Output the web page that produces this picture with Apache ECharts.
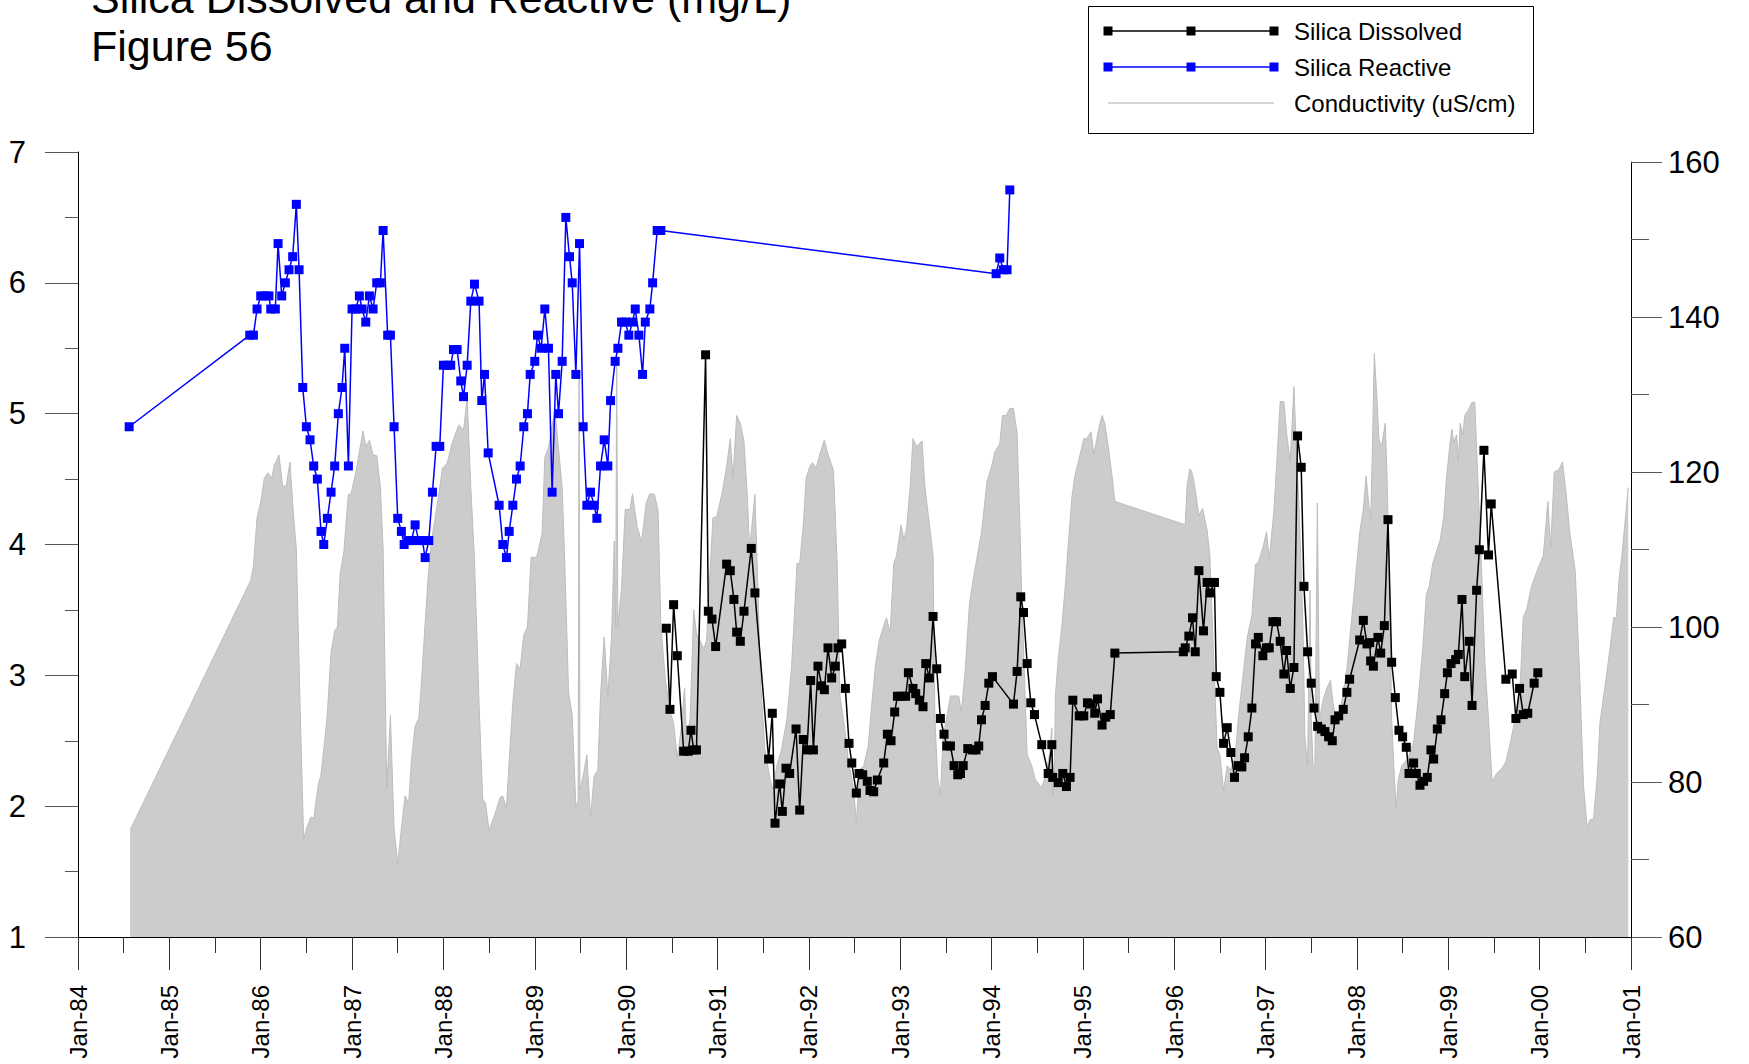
<!DOCTYPE html>
<html>
<head>
<meta charset="utf-8">
<title>Silica Dissolved and Reactive - Figure 56</title>
<script src="https://cdn.jsdelivr.net/npm/echarts@6/dist/echarts.min.js"></script>
<style>
  html, body { margin: 0; padding: 0; background: #fff; }
  #chart { width: 1749px; height: 1064px; }
</style>
</head>
<body>
<div id="chart"></div>
<script>
// x values are decimal years (1984.5 = early July 1984)
const xTickLabels = ['Jan-84', 'Jan-85', 'Jan-86', 'Jan-87', 'Jan-88', 'Jan-89', 'Jan-90', 'Jan-91', 'Jan-92',
  'Jan-93', 'Jan-94', 'Jan-95', 'Jan-96', 'Jan-97', 'Jan-98', 'Jan-99', 'Jan-00', 'Jan-01'];

const seriesNames = ['Silica Dissolved', 'Silica Reactive', 'Conductivity (uS/cm)'];

const reactiveYears = [1984.56, 1985.88, 1985.92, 1985.96, 1986.00, 1986.05, 1986.09, 1986.11, 1986.16, 1986.19,
  1986.23, 1986.27, 1986.31, 1986.35, 1986.39, 1986.42, 1986.46, 1986.50, 1986.54, 1986.58,
  1986.62, 1986.66, 1986.69, 1986.73, 1986.77, 1986.81, 1986.85, 1986.89, 1986.92, 1986.96,
  1987.00, 1987.04, 1987.08, 1987.11, 1987.15, 1987.19, 1987.23, 1987.27, 1987.31, 1987.34,
  1987.39, 1987.42, 1987.46, 1987.50, 1987.54, 1987.57, 1987.61, 1987.65, 1987.69, 1987.73,
  1987.77, 1987.80, 1987.84, 1987.88, 1987.92, 1987.96, 1988.00, 1988.04, 1988.08, 1988.11,
  1988.15, 1988.19, 1988.22, 1988.26, 1988.30, 1988.34, 1988.39, 1988.42, 1988.45, 1988.49,
  1988.61, 1988.65, 1988.69, 1988.72, 1988.76, 1988.80, 1988.84, 1988.88, 1988.92, 1988.95,
  1989.00, 1989.03, 1989.07, 1989.11, 1989.15, 1989.19, 1989.23, 1989.26, 1989.30, 1989.34,
  1989.38, 1989.41, 1989.45, 1989.49, 1989.53, 1989.57, 1989.61, 1989.65, 1989.68, 1989.72,
  1989.76, 1989.80, 1989.83, 1989.88, 1989.91, 1989.95, 1989.99, 1990.03, 1990.07, 1990.10,
  1990.14, 1990.18, 1990.21, 1990.26, 1990.29, 1990.34, 1990.38,
  1994.05, 1994.09, 1994.13, 1994.17, 1994.20];
const reactiveValues = [4.90, 5.60, 5.60, 5.80, 5.90, 5.90, 5.90, 5.80, 5.80, 6.30,
  5.90, 6.00, 6.10, 6.20, 6.60, 6.10, 5.20, 4.90, 4.80, 4.60,
  4.50, 4.10, 4.00, 4.20, 4.40, 4.60, 5.00, 5.20, 5.50, 4.60,
  5.80, 5.80, 5.90, 5.80, 5.70, 5.90, 5.80, 6.00, 6.00, 6.40,
  5.60, 5.60, 4.90, 4.20, 4.10, 4.00, 4.03, 4.03, 4.15, 4.03,
  4.03, 3.90, 4.03, 4.40, 4.75, 4.75, 5.37, 5.37, 5.37, 5.49,
  5.49, 5.25, 5.13, 5.37, 5.86, 5.99, 5.86, 5.10, 5.30, 4.70,
  4.30, 4.00, 3.90, 4.10, 4.30, 4.50, 4.60, 4.90, 5.00, 5.30,
  5.40, 5.60, 5.50, 5.80, 5.50, 4.40, 5.30, 5.00, 5.40, 6.50,
  6.20, 6.00, 5.30, 6.30, 4.90, 4.30, 4.40, 4.30, 4.20, 4.60,
  4.80, 4.60, 5.10, 5.40, 5.50, 5.70, 5.70, 5.60, 5.70, 5.80,
  5.60, 5.30, 5.70, 5.80, 6.00, 6.40, 6.40,
  6.07, 6.19, 6.10, 6.10, 6.71];

const dissolvedYears = [1990.44, 1990.48, 1990.52, 1990.56, 1990.63, 1990.68, 1990.71, 1990.74, 1990.77, 1990.87,
  1990.90, 1990.94, 1990.98, 1991.10, 1991.14, 1991.18, 1991.21, 1991.25, 1991.29, 1991.37,
  1991.41, 1991.56, 1991.60, 1991.63, 1991.68, 1991.71, 1991.75, 1991.79, 1991.86, 1991.90,
  1991.94, 1991.98, 1992.02, 1992.05, 1992.10, 1992.14, 1992.17, 1992.21, 1992.25, 1992.29,
  1992.32, 1992.36, 1992.40, 1992.44, 1992.47, 1992.52, 1992.55, 1992.59, 1992.64, 1992.67,
  1992.71, 1992.75, 1992.82, 1992.86, 1992.90, 1992.94, 1992.97, 1993.01, 1993.06, 1993.09,
  1993.14, 1993.17, 1993.21, 1993.25, 1993.28, 1993.32, 1993.36, 1993.40, 1993.44, 1993.48,
  1993.51, 1993.55, 1993.59, 1993.63, 1993.66, 1993.69, 1993.74, 1993.79, 1993.83, 1993.86,
  1993.89, 1993.93, 1993.97, 1994.01, 1994.24, 1994.28, 1994.32, 1994.35, 1994.39, 1994.43,
  1994.47, 1994.55, 1994.62, 1994.66, 1994.67, 1994.73, 1994.78, 1994.82, 1994.86, 1994.89,
  1994.96, 1995.01, 1995.05, 1995.09, 1995.13, 1995.16, 1995.21, 1995.25, 1995.30, 1995.35,
  1996.10, 1996.12, 1996.16, 1996.20, 1996.23, 1996.27, 1996.32, 1996.36, 1996.39, 1996.44,
  1996.46, 1996.50, 1996.54, 1996.58, 1996.62, 1996.66, 1996.70, 1996.74, 1996.77, 1996.81,
  1996.85, 1996.89, 1996.92, 1996.97, 1997.01, 1997.04, 1997.08, 1997.12, 1997.16, 1997.20,
  1997.23, 1997.27, 1997.31, 1997.35, 1997.39, 1997.42, 1997.46, 1997.50, 1997.53, 1997.57,
  1997.61, 1997.65, 1997.69, 1997.73, 1997.76, 1997.80, 1997.85, 1997.89, 1997.92, 1998.03,
  1998.07, 1998.11, 1998.14, 1998.15, 1998.18, 1998.23, 1998.26, 1998.30, 1998.34, 1998.38,
  1998.42, 1998.46, 1998.50, 1998.54, 1998.57, 1998.62, 1998.65, 1998.69, 1998.73, 1998.77,
  1998.81, 1998.84, 1998.88, 1998.92, 1998.96, 1998.99, 1999.03, 1999.08, 1999.11, 1999.15,
  1999.18, 1999.23, 1999.26, 1999.31, 1999.34, 1999.39, 1999.44, 1999.47, 1999.63, 1999.70,
  1999.74, 1999.78, 1999.82, 1999.87, 1999.94, 1999.98];
const dissolvedValues = [3.36, 2.74, 3.54, 3.15, 2.42, 2.42, 2.58, 2.43, 2.43, 5.45,
  3.49, 3.43, 3.22, 3.85, 3.80, 3.58, 3.33, 3.26, 3.49, 3.97,
  3.63, 2.36, 2.71, 1.87, 2.17, 1.96, 2.29, 2.25, 2.59, 1.97,
  2.51, 2.43, 2.96, 2.43, 3.07, 2.92, 2.89, 3.21, 2.98, 3.07,
  3.21, 3.24, 2.90, 2.48, 2.33, 2.10, 2.25, 2.24, 2.19, 2.12,
  2.11, 2.20, 2.33, 2.55, 2.50, 2.72, 2.84, 2.84, 2.84, 3.02,
  2.90, 2.86, 2.81, 2.76, 3.09, 2.98, 3.45, 3.05, 2.67, 2.55,
  2.46, 2.46, 2.31, 2.24, 2.25, 2.31, 2.44, 2.43, 2.43, 2.46,
  2.66, 2.77, 2.94, 2.99, 2.78, 3.03, 3.60, 3.48, 3.09, 2.79,
  2.70, 2.47, 2.25, 2.47, 2.22, 2.18, 2.25, 2.15, 2.22, 2.81,
  2.69, 2.69, 2.79, 2.78, 2.71, 2.82, 2.62, 2.68, 2.70, 3.17,
  3.18, 3.21, 3.30, 3.44, 3.18, 3.80, 3.34, 3.71, 3.63, 3.71,
  2.99, 2.87, 2.48, 2.60, 2.41, 2.22, 2.31, 2.30, 2.37, 2.53,
  2.75, 3.24, 3.29, 3.15, 3.21, 3.21, 3.41, 3.41, 3.26, 3.01,
  3.19, 2.90, 3.06, 4.83, 4.59, 3.68, 3.18, 2.94, 2.75, 2.61,
  2.59, 2.57, 2.53, 2.50, 2.66, 2.69, 2.74, 2.87, 2.97, 3.27,
  3.42, 3.24, 3.25, 3.11, 3.07, 3.29, 3.17, 3.38, 4.19, 3.10,
  2.83, 2.58, 2.53, 2.45, 2.25, 2.33, 2.25, 2.16, 2.19, 2.22,
  2.43, 2.36, 2.59, 2.66, 2.86, 3.02, 3.09, 3.12, 3.16, 3.58,
  2.99, 3.26, 2.77, 3.65, 3.96, 4.72, 3.92, 4.31, 2.97, 3.01,
  2.67, 2.90, 2.70, 2.71, 2.94, 3.02];

const conductivityYears = [1984.57, 1985.89, 1985.92, 1985.96, 1986.00, 1986.04, 1986.08, 1986.12, 1986.15, 1986.20,
  1986.24, 1986.28, 1986.32, 1986.36, 1986.39, 1986.43, 1986.47, 1986.51, 1986.55, 1986.58,
  1986.63, 1986.66, 1986.70, 1986.73, 1986.77, 1986.81, 1986.84, 1986.87, 1986.91, 1986.94,
  1986.96, 1986.99, 1987.04, 1987.08, 1987.12, 1987.15, 1987.19, 1987.23, 1987.27, 1987.31,
  1987.34, 1987.38, 1987.42, 1987.46, 1987.50, 1987.54, 1987.58, 1987.62, 1987.65, 1987.69,
  1987.73, 1987.75, 1987.79, 1987.83, 1987.87, 1987.94, 1987.99, 1988.04, 1988.09, 1988.13,
  1988.17, 1988.22, 1988.26, 1988.30, 1988.34, 1988.39, 1988.43, 1988.46, 1988.50, 1988.56,
  1988.62, 1988.65, 1988.69, 1988.73, 1988.76, 1988.80, 1988.84, 1988.88, 1988.92, 1988.96,
  1989.02, 1989.08, 1989.11, 1989.15, 1989.18, 1989.22, 1989.30, 1989.33, 1989.37, 1989.41,
  1989.45, 1989.475, 1989.485, 1989.495, 1989.53, 1989.57, 1989.61, 1989.65, 1989.69, 1989.72,
  1989.76, 1989.80, 1989.84, 1989.87, 1989.885, 1989.897, 1989.91, 1989.95, 1989.99, 1990.04,
  1990.07, 1990.12, 1990.17, 1990.22, 1990.26, 1990.31, 1990.35, 1990.38, 1990.43, 1990.48,
  1990.52, 1990.56, 1990.60, 1990.64, 1990.66, 1990.70, 1990.74, 1990.77, 1990.85, 1990.88,
  1990.95, 1990.99, 1991.05, 1991.10, 1991.14, 1991.17, 1991.21, 1991.25, 1991.29, 1991.33,
  1991.35, 1991.37, 1991.41, 1991.44, 1991.47, 1991.52, 1991.58, 1991.61, 1991.65, 1991.70,
  1991.76, 1991.81, 1991.85, 1991.87, 1991.90, 1991.94, 1991.97, 1992.01, 1992.04, 1992.08,
  1992.12, 1992.17, 1992.21, 1992.27, 1992.31, 1992.34, 1992.38, 1992.43, 1992.49, 1992.52,
  1992.56, 1992.60, 1992.65, 1992.69, 1992.73, 1992.77, 1992.82, 1992.85, 1992.89, 1992.93,
  1992.96, 1993.01, 1993.04, 1993.07, 1993.11, 1993.14, 1993.18, 1993.24, 1993.27, 1993.31,
  1993.36, 1993.38, 1993.41, 1993.44, 1993.47, 1993.55, 1993.64, 1993.67, 1993.71, 1993.76,
  1993.80, 1993.89, 1993.95, 1994.00, 1994.04, 1994.09, 1994.12, 1994.16, 1994.20, 1994.24,
  1994.28, 1994.31, 1994.33, 1994.37, 1994.39, 1994.44, 1994.48, 1994.55, 1994.60, 1994.64,
  1994.66, 1994.67, 1994.69, 1994.70, 1994.73, 1994.77, 1994.81, 1994.84, 1994.88, 1994.91,
  1994.95, 1995.01, 1995.04, 1995.09, 1995.12, 1995.17, 1995.21, 1995.24, 1995.28, 1995.32,
  1995.35, 1996.12, 1996.14, 1996.17, 1996.19, 1996.22, 1996.27, 1996.31, 1996.36, 1996.39,
  1996.42, 1996.45, 1996.47, 1996.50, 1996.54, 1996.58, 1996.62, 1996.67, 1996.70, 1996.76,
  1996.80, 1996.85, 1996.89, 1996.92, 1996.97, 1997.01, 1997.04, 1997.09, 1997.12, 1997.16,
  1997.20, 1997.23, 1997.27, 1997.31, 1997.33, 1997.37, 1997.41, 1997.43, 1997.46, 1997.487,
  1997.50, 1997.52, 1997.54, 1997.567, 1997.59, 1997.63, 1997.67, 1997.71, 1997.74, 1997.78,
  1997.83, 1997.89, 1997.92, 1997.98, 1998.03, 1998.07, 1998.10, 1998.13, 1998.15, 1998.17,
  1998.19, 1998.22, 1998.24, 1998.27, 1998.31, 1998.33, 1998.36, 1998.38, 1998.41, 1998.43,
  1998.45, 1998.49, 1998.56, 1998.62, 1998.67, 1998.72, 1998.76, 1998.79, 1998.83, 1998.87,
  1998.91, 1998.95, 1998.98, 1999.02, 1999.04, 1999.06, 1999.09, 1999.11, 1999.13, 1999.16,
  1999.18, 1999.22, 1999.26, 1999.29, 1999.33, 1999.37, 1999.40, 1999.44, 1999.48, 1999.53,
  1999.59, 1999.63, 1999.68, 1999.73, 1999.79, 1999.82, 1999.86, 1999.91, 1999.97, 2000.04,
  2000.09, 2000.12, 2000.16, 2000.21, 2000.25, 2000.29, 2000.33, 2000.39, 2000.44, 2000.48,
  2000.52, 2000.55, 2000.59, 2000.63, 2000.66, 2000.70, 2000.73, 2000.77, 2000.81, 2000.84,
  2000.87, 2000.90, 2000.94, 2000.97];
const conductivityValues = [73.8, 106.0, 107.8, 114.1, 116.1, 119.2, 119.9, 119.2, 120.9, 122.2,
  118.2, 118.2, 121.3, 114.3, 110.1, 90.2, 72.7, 74.3, 75.5, 75.3,
  79.6, 81.0, 85.2, 88.9, 96.7, 99.5, 100.0, 106.9, 109.7, 114.3,
  117.1, 117.2, 119.9, 122.6, 125.3, 123.3, 124.1, 122.2, 122.1, 118.1,
  110.1, 79.1, 88.6, 74.0, 69.4, 74.0, 78.2, 77.3, 82.8, 87.2,
  88.2, 91.2, 98.6, 106.0, 111.1, 116.4, 120.5, 121.1, 123.5, 124.9,
  126.1, 125.4, 129.5, 118.0, 108.7, 90.2, 77.8, 77.3, 73.8, 75.7,
  78.0, 78.2, 76.6, 84.7, 90.2, 95.3, 94.6, 99.0, 100.0, 109.0,
  109.0, 112.0, 121.9, 123.1, 125.4, 128.0, 118.0, 107.8, 91.6, 88.6,
  76.8, 77.5, 133.0, 79.0, 80.8, 83.5, 75.4, 80.8, 81.5, 91.2,
  98.7, 91.0, 98.6, 111.1, 100.0, 134.5, 100.0, 105.0, 115.2, 115.1,
  117.2, 113.0, 111.0, 116.0, 117.2, 117.1, 115.0, 100.2, 93.1, 89.1,
  87.6, 83.1, 86.6, 92.1, 85.6, 88.1, 102.2, 99.2, 97.2, 98.2,
  114.1, 114.2, 117.2, 120.7, 124.3, 119.2, 127.3, 126.3, 124.0, 116.2,
  110.2, 112.2, 117.1, 106.2, 93.1, 84.1, 80.1, 79.1, 82.1, 84.1,
  88.1, 94.6, 103.2, 108.2, 108.2, 113.2, 119.2, 120.7, 121.2, 120.5,
  122.3, 124.1, 122.3, 120.2, 108.2, 91.1, 88.1, 83.1, 79.1, 74.8,
  81.6, 82.1, 84.6, 90.1, 95.1, 98.2, 100.2, 101.2, 99.2, 108.2,
  109.2, 113.2, 111.2, 112.7, 118.2, 124.3, 123.3, 124.0, 118.2, 114.2,
  109.2, 88.1, 80.6, 78.3, 85.6, 91.1, 91.1, 89.1, 94.1, 103.2,
  106.2, 112.2, 118.7, 120.7, 122.7, 123.6, 127.3, 127.3, 128.2, 128.2,
  125.0, 113.4, 104.2, 90.4, 83.5, 82.1, 80.3, 79.3, 81.2, 84.0,
  87.0, 78.2, 83.5, 91.3, 95.9, 100.1, 105.6, 110.7, 116.7, 119.4,
  121.3, 124.3, 124.3, 125.2, 122.2, 125.4, 127.3, 126.3, 123.1, 119.4,
  116.2, 113.2, 118.1, 120.4, 120.1, 118.5, 114.4, 115.3, 112.5, 109.3,
  99.6, 90.4, 84.4, 83.5, 78.9, 82.1, 81.6, 83.5, 88.1, 94.5,
  98.7, 101.5, 108.1, 108.4, 110.2, 112.3, 108.8, 114.8, 120.8, 129.1,
  129.1, 125.0, 121.3, 131.0, 125.0, 114.4, 99.6, 85.8, 82.1, 104.7,
  88.0, 82.1, 82.1, 116.0, 88.1, 90.6, 92.1, 93.1, 90.1, 87.6,
  90.1, 94.6, 98.2, 105.7, 112.2, 115.2, 119.5, 115.7, 113.7, 123.3,
  135.3, 129.3, 124.3, 123.3, 126.3, 119.2, 103.2, 88.1, 80.6, 76.6,
  80.1, 82.1, 83.1, 85.1, 90.6, 97.2, 104.2, 105.2, 108.2, 109.7,
  111.2, 114.2, 119.2, 123.8, 125.5, 123.8, 124.8, 121.3, 126.3, 124.8,
  127.3, 128.0, 129.0, 129.0, 117.2, 105.7, 95.6, 88.1, 80.1, 81.1,
  81.8, 82.6, 85.1, 88.1, 93.1, 101.2, 102.4, 105.2, 107.2, 109.2,
  116.2, 110.2, 120.0, 120.3, 121.3, 117.2, 112.2, 107.2, 93.1, 79.6,
  74.1, 75.1, 75.3, 80.6, 87.6, 91.1, 93.6, 97.2, 101.2, 101.2,
  106.2, 109.2, 114.2, 118.0];

const pairs = (xs, ys) => xs.map((x, i) => [x, ys[i]]);

const FONT = 'Liberation Sans, Arial, Helvetica, sans-serif';

let myChart = echarts.init(document.getElementById('chart'), null, { renderer: 'svg' });

// legend box drawn by hand to keep the three-marker look of the original
const legendRows = [
  { name: seriesNames[0], color: '#000000', marker: true, y: 31 },
  { name: seriesNames[1], color: '#0000ff', marker: true, y: 67 },
  { name: seriesNames[2], color: '#c8c8c8', marker: false, y: 103 }
];
const legendGraphics = [
  {
    type: 'rect',
    shape: { x: 1088.5, y: 6.5, width: 445, height: 127 },
    style: { fill: '#fff', stroke: '#000', lineWidth: 1 }
  }
];
legendRows.forEach(row => {
  legendGraphics.push({
    type: 'line',
    shape: { x1: 1108, y1: row.y, x2: 1274, y2: row.y },
    style: { stroke: row.color, lineWidth: 1.5 }
  });
  if (row.marker) {
    [1108, 1191, 1274].forEach(cx => {
      legendGraphics.push({
        type: 'rect',
        shape: { x: cx - 4.5, y: row.y - 4.5, width: 9, height: 9 },
        style: { fill: row.color }
      });
    });
  }
  legendGraphics.push({
    type: 'text',
    x: 1294,
    y: row.y,
    style: { text: row.name, font: '24px ' + FONT, fill: '#000', verticalAlign: 'middle' }
  });
});

let option = {
  animation: false,
  backgroundColor: '#ffffff',
  graphic: [
    {
      type: 'text', x: 91, y: -2,
      style: { text: 'Silica Dissolved and Reactive (mg/L)', font: '43px ' + FONT, fill: '#000', verticalAlign: 'middle' }
    },
    {
      type: 'text', x: 91, y: 46,
      style: { text: 'Figure 56', font: '43px ' + FONT, fill: '#000', verticalAlign: 'middle' }
    }
  ].concat(legendGraphics),
  grid: [
    { left: 78, right: 118, top: 152, bottom: 127 },
    { left: 78, right: 118, top: 162, bottom: 127 }
  ],
  xAxis: [
    {
      type: 'value',
      gridIndex: 0,
      min: 1984,
      max: 2001,
      interval: 1,
      z: 5,
      axisLine: { show: true, onZero: false, lineStyle: { color: '#000', width: 1 } },
      axisTick: { show: true, length: 33, lineStyle: { color: '#333' } },
      minorTick: { show: true, splitNumber: 2, length: 16, lineStyle: { color: '#333' } },
      splitLine: { show: false },
      axisLabel: {
        rotate: 90,
        margin: 48,
        fontSize: 24,
        fontFamily: FONT,
        color: '#000',
        formatter: v => xTickLabels[Math.round(v - 1984)]
      }
    },
    {
      type: 'value',
      gridIndex: 1,
      min: 1984,
      max: 2001,
      show: false
    }
  ],
  yAxis: [
    {
      type: 'value',
      gridIndex: 0,
      position: 'left',
      min: 1,
      max: 7,
      interval: 1,
      z: 5,
      axisLine: { show: true, lineStyle: { color: '#000', width: 1 } },
      axisTick: { show: true, length: 33, lineStyle: { color: '#555' } },
      minorTick: { show: true, splitNumber: 2, length: 13, lineStyle: { color: '#555' } },
      splitLine: { show: false },
      axisLabel: { margin: 52, fontSize: 31, fontFamily: FONT, color: '#000' }
    },
    {
      type: 'value',
      gridIndex: 1,
      position: 'right',
      min: 60,
      max: 160,
      interval: 20,
      z: 5,
      axisLine: { show: true, lineStyle: { color: '#000', width: 1 } },
      axisTick: { show: true, length: 31, lineStyle: { color: '#555' } },
      minorTick: { show: true, splitNumber: 2, length: 18, lineStyle: { color: '#555' } },
      splitLine: { show: false },
      axisLabel: { margin: 37, fontSize: 31, fontFamily: FONT, color: '#000' }
    }
  ],
  series: [
    {
      name: seriesNames[2],
      type: 'line',
      xAxisIndex: 1,
      yAxisIndex: 1,
      z: 1,
      showSymbol: false,
      symbol: 'none',
      lineStyle: { color: '#bdbdbd', width: 1 },
      areaStyle: { color: '#cccccc', opacity: 1, origin: 'start' },
      data: pairs(conductivityYears, conductivityValues)
    },
    {
      name: seriesNames[0],
      type: 'line',
      xAxisIndex: 0,
      yAxisIndex: 0,
      z: 3,
      symbol: 'rect',
      symbolSize: 9,
      showAllSymbol: true,
      lineStyle: { color: '#000000', width: 1.5 },
      itemStyle: { color: '#000000' },
      data: pairs(dissolvedYears, dissolvedValues)
    },
    {
      name: seriesNames[1],
      type: 'line',
      xAxisIndex: 0,
      yAxisIndex: 0,
      z: 4,
      symbol: 'rect',
      symbolSize: 9,
      showAllSymbol: true,
      lineStyle: { color: '#0000ff', width: 1.5 },
      itemStyle: { color: '#0000ff' },
      data: pairs(reactiveYears, reactiveValues)
    }
  ]
};

myChart.setOption(option);
</script>
</body>
</html>
